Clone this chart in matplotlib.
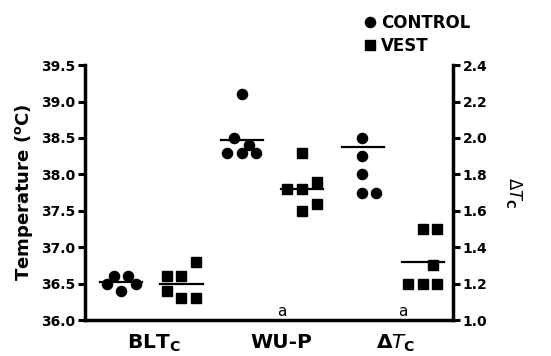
import numpy as np
import matplotlib
matplotlib.use('Agg')
import matplotlib.pyplot as plt
from matplotlib.lines import Line2D

# ---------------------- data ---------------------------------
categories = ['BLT$_\\mathbf{C}$', 'WU-P', '$\\mathbf{\\Delta}\\mathit{T}_\\mathbf{C}$']

# left axis (temperature, deg C)
blt_control = [36.5, 36.6, 36.4, 36.6, 36.5]
blt_control_dx = [-0.24, -0.12, 0.0, 0.12, 0.24]
blt_vest = [36.6, 36.4, 36.6, 36.3, 36.8, 36.3]
blt_vest_dx = [-0.24, -0.24, 0.0, 0.0, 0.24, 0.24]
wup_control = [38.3, 38.5, 39.1, 38.3, 38.4, 38.3]
wup_control_dx = [-0.24, -0.12, 0.0, 0.0, 0.12, 0.24]
wup_vest = [37.8, 38.3, 37.8, 37.5, 37.9, 37.6]
wup_vest_dx = [-0.25, 0.0, 0.0, 0.0, 0.24, 0.24]

# right axis (delta Tc)
dtc_control = [2.0, 1.9, 1.8, 1.7, 1.7]
dtc_control_dx = [0.0, 0.0, 0.0, 0.0, 0.23]
dtc_vest = [1.2, 1.5, 1.2, 1.5, 1.2, 1.3]
dtc_vest_dx = [-0.24, 0.0, 0.0, 0.24, 0.24, 0.17]

temp_means = [36.52, 36.5, 38.47, 37.8]
dtc_means = [1.95, 1.32]

# ---------------------- plotting -----------------------------
fig = plt.figure(figsize=(5.51, 3.56), dpi=100)
ax = fig.add_axes([0.154, 0.101, 0.668, 0.716])
ax2 = ax.twinx()

plt.rcParams['font.family'] = 'DejaVu Sans'
ms_c = 7.3
ms_s = 7.3

def dots(a, center, vals, dx, marker):
    a.plot(center + np.array(dx), vals, linestyle='none', marker=marker,
           color='k', markersize=ms_c if marker == 'o' else ms_s, clip_on=False)

dots(ax, 1, blt_control, blt_control_dx, 'o')
dots(ax, 2, blt_vest, blt_vest_dx, 's')
dots(ax, 3, wup_control, wup_control_dx, 'o')
dots(ax, 4, wup_vest, wup_vest_dx, 's')
dots(ax2, 5, dtc_control, dtc_control_dx, 'o')
dots(ax2, 6, dtc_vest, dtc_vest_dx, 's')

for i, m in enumerate(temp_means):
    ax.plot([i + 1 - 0.35, i + 1 + 0.35], [m, m], color='k', lw=1.6)
for i, m in enumerate(dtc_means):
    ax2.plot([i + 5 - 0.34, i + 5 + 0.36], [m, m], color='k', lw=1.6)

ax.set_xlim(0.4, 6.5)
ax.set_ylim(36.0, 39.5)
ax2.set_ylim(1.0, 2.4)
ax.set_yticks(np.arange(36.0, 39.51, 0.5))
ax2.set_yticks(np.arange(1.0, 2.41, 0.2))
ax.yaxis.set_major_formatter(matplotlib.ticker.FormatStrFormatter('%.1f'))
ax2.yaxis.set_major_formatter(matplotlib.ticker.FormatStrFormatter('%.1f'))

ax.set_xticks([1.55, 3.65, 5.55])
ax.set_xticklabels(categories, fontsize=14.5, fontweight='bold')
ax.tick_params(axis='x', length=0, pad=9)
ax.tick_params(axis='y', direction='out', length=5, width=2.2, labelsize=10, pad=2)
ax2.tick_params(axis='y', direction='out', length=5, width=2.2, labelsize=10, pad=2)
for lab in ax.get_yticklabels() + ax2.get_yticklabels():
    lab.set_fontweight('bold')

for a in (ax, ax2):
    a.spines['top'].set_visible(False)
    for s in ('left', 'right', 'bottom'):
        a.spines[s].set_linewidth(2.5)
ax.spines['right'].set_visible(False)
ax2.spines['left'].set_visible(False)
ax2.spines['bottom'].set_visible(False)

ax.set_ylabel('Temperature ($^\\mathregular{o}$C)', fontsize=13, fontweight='bold', labelpad=4)
ax2.set_ylabel('$\\Delta\\mathit{T}_\\mathbf{C}$', fontsize=12, rotation=270,
               labelpad=12, va='bottom')

ax.text(3.67, 36.02, 'a', ha='center', va='bottom', fontsize=11)
ax.text(5.67, 36.02, 'a', ha='center', va='bottom', fontsize=11)

handles = [Line2D([], [], marker='o', color='k', linestyle='none', markersize=ms_c),
           Line2D([], [], marker='s', color='k', linestyle='none', markersize=ms_s)]
fig.legend(handles, ['CONTROL', 'VEST'], loc='upper left', bbox_to_anchor=(0.645, 0.98),
           frameon=False, prop={'size': 12, 'weight': 'bold'}, handletextpad=0.15,
           handlelength=1.0, labelspacing=0.3, borderaxespad=0)

fig.savefig('out.png', dpi=100)
